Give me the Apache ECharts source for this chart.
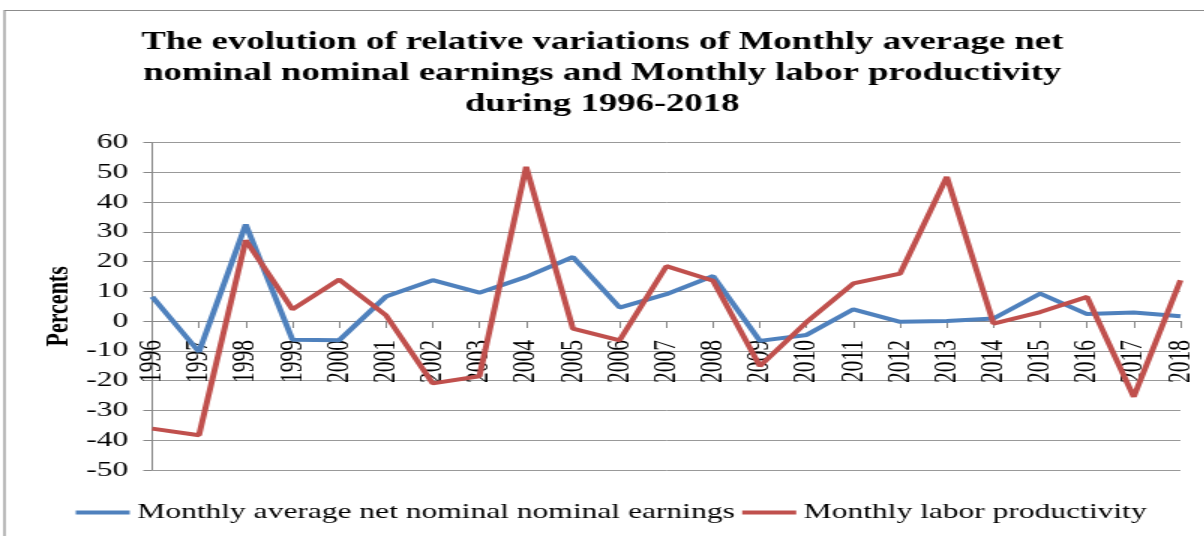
<!DOCTYPE html>
<html>
<head>
<meta charset="utf-8">
<script src="https://cdn.jsdelivr.net/npm/echarts@6/dist/echarts.min.js"></script>
<style>
  html, body { margin: 0; padding: 0; background: #fff; overflow: hidden; }
  /* the source picture is stretched sideways, so draw narrow and stretch the same way */
  #chart { width: 802.67px; height: 536px; transform: scaleX(1.5); transform-origin: 0 0; }
</style>
</head>
<body>
<div id="chart"></div>
<script>
  const years = ['1996', '1997', '1998', '1999', '2000', '2001', '2002', '2003', '2004', '2005', '2006', '2007',
    '2008', '2009', '2010', '2011', '2012', '2013', '2014', '2015', '2016', '2017', '2018']
  const earnings = [8.2, -10.3, 32.5, -6.2, -6.4, 8.3, 13.8, 9.6, 14.9, 21.6, 4.6, 9.1,
    15.2, -6.6, -4.6, 4.0, -0.2, 0.1, 0.9, 9.3, 2.4, 2.9, 1.7]
  const productivity = [-36.1, -38.3, 27.2, 4.0, 14.0, 2.0, -20.9, -18.5, 51.9, -2.5, -6.4, 18.5,
    13.6, -15.1, -0.3, 12.7, 16.0, 48.5, -0.8, 3.1, 8.2, -25.4, 13.8]
  const seriesNames = ['Monthly average net nominal nominal earnings', 'Monthly labor productivity']

  const serif = '"Liberation Serif", "DejaVu Serif", serif'
  const blue = '#4f81bd'
  const red = '#c0504d'

  const myChart = echarts.init(document.getElementById('chart'))

  const option = {
    animation: false,
    title: {
      text: 'The evolution of relative variations of Monthly average net\nnominal nominal earnings and Monthly labor productivity\nduring 1996-2018',
      left: 'center',
      top: 22,
      textStyle: {
        fontFamily: serif,
        fontWeight: 'bold',
        fontSize: 24.5,
        lineHeight: 31,
        color: '#000',
      },
    },
    graphic: [
      {
        type: 'rect',
        shape: { x: 3, y: 10.5, width: 1000, height: 700 },
        style: { fill: 'none', stroke: '#8c8c8c', lineWidth: 1.2 },
        silent: true,
      },
    ],
    grid: {
      left: 101.5,
      right: 16,
      top: 142.7,
      bottom: 66,
    },
    legend: {
      left: 45.5,
      top: 497,
      icon: 'rect',
      itemWidth: 36,
      itemHeight: 4,
      itemGap: 5,
      textStyle: {
        fontFamily: serif,
        fontSize: 21,
        color: '#000',
      },
      data: seriesNames,
    },
    xAxis: {
      type: 'category',
      data: years,
      boundaryGap: false,
      offset: -149,
      axisLine: { onZero: false, lineStyle: { color: '#888', width: 1 } },
      axisTick: { show: true, length: 7, lineStyle: { color: '#888' } },
      axisLabel: {
        rotate: 90,
        interval: 0,
        margin: 19,
        fontFamily: serif,
        fontSize: 21.5,
        color: '#000',
      },
      splitLine: { show: false },
    },
    yAxis: {
      type: 'value',
      min: -50,
      max: 60,
      interval: 10,
      name: 'Percents',
      nameLocation: 'middle',
      nameGap: 51,
      nameMoveOverlap: false,
      nameTextStyle: {
        fontFamily: serif,
        fontWeight: 'bold',
        fontSize: 22,
        color: '#000',
      },
      axisLine: { show: true, lineStyle: { color: '#888', width: 1 } },
      axisTick: { show: true, length: 6, lineStyle: { color: '#888' } },
      axisLabel: {
        margin: 16,
        fontFamily: serif,
        fontSize: 21,
        color: '#000',
      },
      splitLine: { show: true, lineStyle: { color: '#999', width: 1 } },
    },
    series: [
      {
        name: seriesNames[0],
        type: 'line',
        data: earnings,
        showSymbol: false,
        lineStyle: { color: blue, width: 4 },
        itemStyle: { color: blue },
        z: 3,
      },
      {
        name: seriesNames[1],
        type: 'line',
        data: productivity,
        showSymbol: false,
        lineStyle: { color: red, width: 4 },
        itemStyle: { color: red },
        z: 4,
      },
    ],
  }

  myChart.setOption(option)
</script>
</body>
</html>
